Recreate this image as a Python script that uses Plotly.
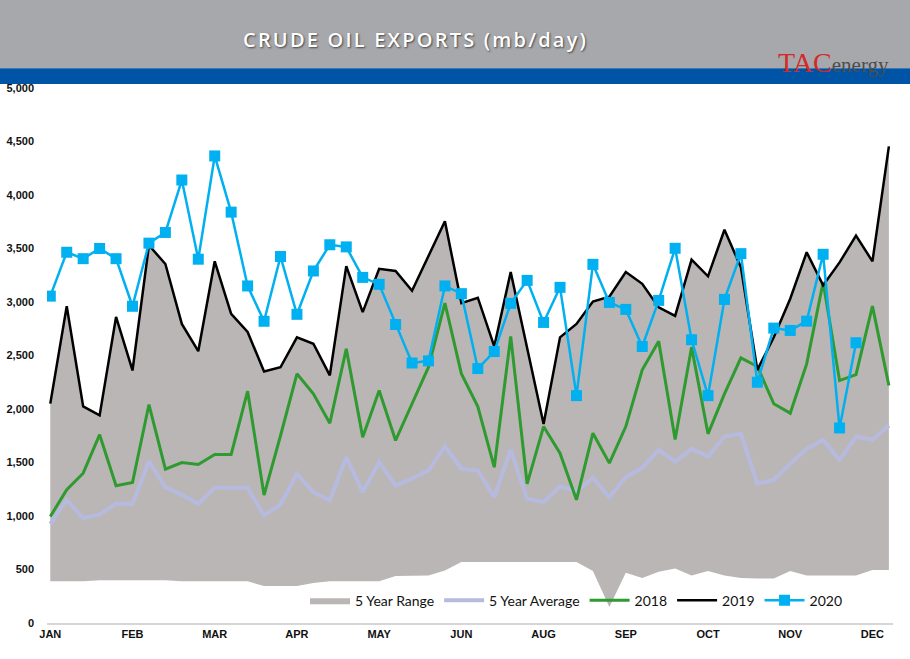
import plotly.graph_objects as go

# weekly data, 52 weeks; month labels shown every 5th week (as in the source sheet)
weeks = list(range(52))
tick_weeks = [0, 5, 10, 15, 20, 25, 30, 35, 40, 45, 50]
tick_labels = ["JAN", "FEB", "MAR", "APR", "MAY", "JUN", "AUG", "SEP", "OCT", "NOV", "DEC"]

range_low = [390, 390, 390, 400, 400, 400, 400, 400, 390, 390,
             390, 390, 390, 345, 345, 345, 375, 390, 390, 390,
             390, 440, 440, 445, 490, 570, 570, 570, 570, 570,
             570, 570, 570, 485, 150, 470, 420, 480, 510, 445,
             485, 445, 420, 415, 415, 485, 445, 445, 445, 445,
             495, 495]

range_high = [2050, 2960, 2025, 1940, 2860, 2360, 3530, 3355, 2795, 2540,
              3380, 2890, 2720, 2350, 2390, 2670, 2610, 2315, 3335, 2905,
              3310, 3290, 3105, 3435, 3755, 2990, 3040, 2585, 3280, 2570,
              1860, 2670, 2795, 3005, 3050, 3280, 3170, 2950, 2870, 3395,
              3240, 3675, 3325, 2400, 2670, 3030, 3465, 3185, 3370, 3620,
              3380, 4455]

avg5 = [927, 1151, 979, 1014, 1114, 1114, 1510, 1269, 1198, 1114,
        1263, 1263, 1263, 1005, 1107, 1394, 1223, 1145, 1550, 1223,
        1503, 1285, 1348, 1425, 1650, 1441, 1425, 1176, 1619, 1161,
        1129, 1276, 1232, 1357, 1176, 1363, 1450, 1619, 1508, 1628,
        1556, 1743, 1768, 1301, 1338, 1488, 1628, 1712, 1525, 1743,
        1712, 1846]

y2018 = [995, 1245, 1400, 1760, 1282, 1313, 2042, 1437, 1500, 1481,
         1575, 1575, 2166, 1195, 1750, 2329, 2142, 1867, 2562, 1737,
         2173, 1706, 2049, 2391, 2989, 2330, 2023, 1456, 2678, 1301,
         1836, 1587, 1151, 1774, 1494, 1836, 2366, 2634, 1716, 2578,
         1768, 2142, 2478, 2397, 2049, 1961, 2422, 3185, 2266, 2322,
         2961, 2220]

y2019 = [2050, 2960, 2025, 1940, 2860, 2360, 3530, 3355, 2795, 2540,
         3380, 2890, 2720, 2350, 2390, 2670, 2610, 2315, 3335, 2905,
         3310, 3290, 3105, 3435, 3755, 2990, 3040, 2585, 3280, 2570,
         1860, 2670, 2795, 3005, 3050, 3280, 3170, 2950, 2870, 3395,
         3240, 3675, 3325, 2365, 2670, 3030, 3465, 3155, 3370, 3620,
         3380, 4455]

y2020 = [3055, 3465, 3405, 3500, 3405, 2960, 3550, 3650, 4140, 3400,
         4365, 3840, 3150, 2820, 3425, 2885, 3290, 3535, 3515, 3230,
         3165, 2790, 2430, 2450, 3150, 3078, 2378, 2537, 2987, 3202,
         2809, 3137, 2125, 3352, 2996, 2931, 2584, 3015, 3502, 2647,
         2125, 3024, 3452, 2250, 2756, 2734, 2821, 3446, 1823, 2619]

fig = go.Figure()

fig.add_trace(go.Scatter(x=weeks, y=range_low, mode="lines", line=dict(width=0),
                         showlegend=False, hoverinfo="skip"))
fig.add_trace(go.Scatter(x=weeks, y=range_high, mode="lines", line=dict(width=0),
                         fill="tonexty", fillcolor="#bab6b5", name="5 Year Range"))
fig.add_trace(go.Scatter(x=weeks, y=avg5, mode="lines",
                         line=dict(color="#b7badf", width=4), name="5 Year Average"))
fig.add_trace(go.Scatter(x=weeks, y=y2018, mode="lines",
                         line=dict(color="#2f9a2f", width=3), name="2018"))
fig.add_trace(go.Scatter(x=weeks, y=y2019, mode="lines",
                         line=dict(color="#000000", width=2.5), name="2019"))
fig.add_trace(go.Scatter(x=weeks[:len(y2020)], y=y2020, mode="lines+markers",
                         line=dict(color="#00b0f0", width=2.5),
                         marker=dict(symbol="square", size=11, color="#00b0f0"),
                         name="2020"))

# header bands (paper coords reach into the top margin)
fig.add_shape(type="rect", xref="paper", yref="paper", x0=-0.1, x1=1.1, y0=1.037, y1=1.2,
              fillcolor="#a7a8ac", line=dict(width=0), layer="below")
fig.add_shape(type="rect", xref="paper", yref="paper", x0=-0.1, x1=1.1, y0=1.0075, y1=1.037,
              fillcolor="#0054a6", line=dict(width=0), layer="below")

fig.add_annotation(text="<span style='letter-spacing:2.2px'>CRUDE OIL EXPORTS (mb/day)</span>",
                   xref="paper", yref="paper",
                   x=0.435, y=1.090, xanchor="center", yanchor="middle", showarrow=False,
                   font=dict(family="Open Sans, Liberation Sans", size=20,
                             color="white", weight=600, shadow="1px 1px 2px #444"))
fig.add_annotation(text="<span style='color:#d42a2a;font-size:28px'>TAC</span>"
                        "<span style='color:#4d4d4d'>energy</span>",
                   xref="paper", yref="paper", x=0.93, y=1.048, xanchor="center", yanchor="middle",
                   showarrow=False,
                   font=dict(family="Liberation Serif, DejaVu Serif", size=21))

fig.update_layout(
    width=910, height=659,
    margin=dict(l=47, r=17, t=88, b=36),
    plot_bgcolor="white", paper_bgcolor="white",
    xaxis=dict(range=[-0.2, 51.25], tickvals=tick_weeks, ticktext=tick_labels,
               showgrid=False, zeroline=False, showline=True, linecolor="#d6d6d6", linewidth=2,
               automargin=False,
               tickfont=dict(family="Liberation Sans, Arial", size=11, color="#111", weight="bold")),
    yaxis=dict(range=[0, 5000], dtick=500, tickformat=",", showgrid=False, zeroline=False,
               ticklabelstandoff=12, automargin=False,
               tickfont=dict(family="Liberation Sans, Arial", size=11, color="#111", weight="bold")),
    legend=dict(orientation="h", x=0.305, y=0.042, xanchor="left", yanchor="middle",
                traceorder="normal",
                bgcolor="rgba(0,0,0,0)", font=dict(family="Lato, Noto Sans", size=14, color="#111"),
                itemwidth=40),
)

fig.write_html("out.html", config={"displayModeBar": False},
               post_script="document.body.style.margin='0';document.body.style.overflow='hidden';")
